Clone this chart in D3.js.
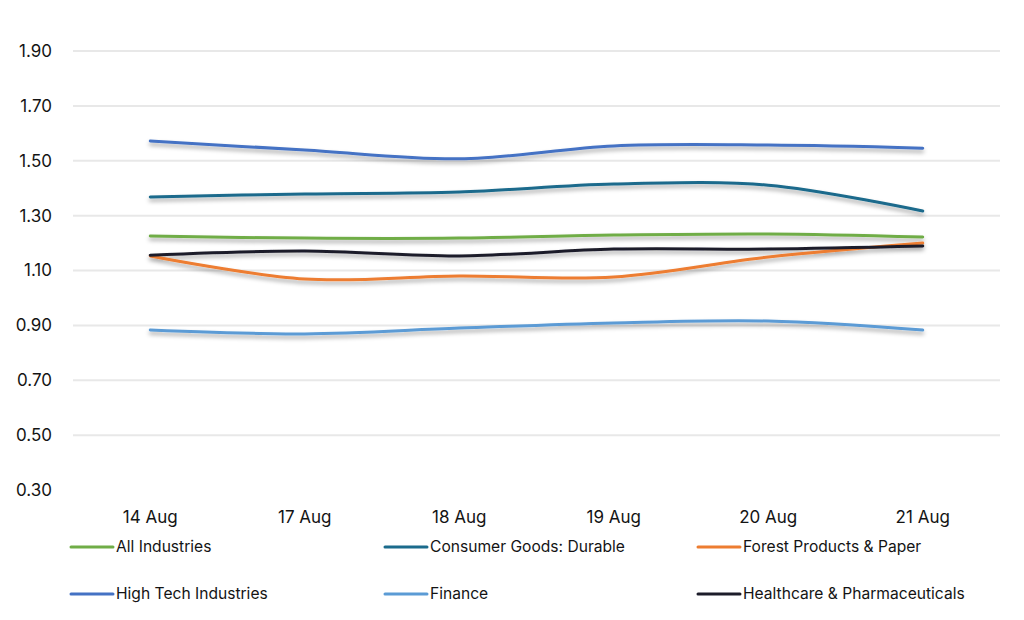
<!DOCTYPE html>
<html>
<head>
<meta charset="utf-8">
<script src="https://cdn.jsdelivr.net/npm/d3@7"></script>
<style>
  body { margin: 0; background: #fff; }
  text { font-family: "Inter", "Liberation Sans", sans-serif; fill: #141414; }
</style>
</head>
<body>
<div id="chart"></div>
<script>
"use strict";

const dates = ["14 Aug", "17 Aug", "18 Aug", "19 Aug", "20 Aug", "21 Aug"];
const yTicks = [0.30, 0.50, 0.70, 0.90, 1.10, 1.30, 1.50, 1.70, 1.90];

const allIndustries = [1.226, 1.218, 1.218, 1.229, 1.233, 1.222];
const consumerDurable = [1.368, 1.379, 1.386, 1.415, 1.411, 1.317];
const forestPaper = [1.153, 1.069, 1.080, 1.076, 1.149, 1.200];
const highTech = [1.572, 1.539, 1.507, 1.554, 1.557, 1.546];
const finance = [0.883, 0.869, 0.890, 0.909, 0.916, 0.883];
const healthcare = [1.156, 1.171, 1.153, 1.178, 1.178, 1.189];

const seriesNames = ["All Industries", "Consumer Goods: Durable", "Forest Products & Paper",
  "High Tech Industries", "Finance", "Healthcare & Pharmaceuticals"];
const seriesValues = [allIndustries, consumerDurable, forestPaper, highTech, finance, healthcare];
const seriesColors = ["#70ad47", "#1b6b8c", "#ed7d31", "#4472c4", "#5b9bd5", "#1c1c2a"];

const width = 1024, height = 620;
const margin = {left: 73, right: 24, top: 51, bottom: 130};

const svg = d3.select("#chart").append("svg")
  .attr("width", width)
  .attr("height", height);

// soft shadow under the lines, like the office chart
const defs = svg.append("defs");
defs.append("filter")
  .attr("id", "shadow")
  .attr("x", "-5%").attr("y", "-50%")
  .attr("width", "110%").attr("height", "200%")
  .append("feDropShadow")
  .attr("dx", 0).attr("dy", 3)
  .attr("stdDeviation", 2.2)
  .attr("flood-color", "#000")
  .attr("flood-opacity", 0.35);

const xScale = d3.scaleBand()
  .domain(dates)
  .range([margin.left, width - margin.right]);

const yScale = d3.scaleLinear()
  .domain([0.30, 1.90])
  .range([490, margin.top]);

// gridlines (none at the base value)
svg.append("g")
  .selectAll("line")
  .data(yTicks.filter(d => d > 0.3))
  .join("line")
  .attr("x1", margin.left)
  .attr("x2", width - margin.right)
  .attr("y1", d => yScale(d))
  .attr("y2", d => yScale(d))
  .attr("stroke", "#e8e8e8")
  .attr("stroke-width", 2);

// y labels
svg.append("g")
  .selectAll("text")
  .data(yTicks)
  .join("text")
  .attr("x", 52)
  .attr("y", d => yScale(d))
  .attr("dy", "0.35em")
  .attr("text-anchor", "end")
  .style("font-size", "17px")
  .text(d => d.toFixed(2));

// x labels
svg.append("g")
  .selectAll("text")
  .data(dates)
  .join("text")
  .attr("x", d => xScale(d) + xScale.bandwidth() / 2)
  .attr("y", 517)
  .attr("dy", "0.35em")
  .attr("text-anchor", "middle")
  .style("font-size", "17px")
  .text(d => d);

const lineGen = d3.line()
  .x((d, i) => xScale(dates[i]) + xScale.bandwidth() / 2)
  .y(d => yScale(d))
  .curve(d3.curveCatmullRom.alpha(0.5));

svg.append("g")
  .attr("filter", "url(#shadow)")
  .selectAll("path")
  .data(seriesValues)
  .join("path")
  .attr("d", d => lineGen(d))
  .attr("fill", "none")
  .attr("stroke", (d, i) => seriesColors[i])
  .attr("stroke-width", 3)
  .attr("stroke-linecap", "round");

// legend, 3 columns x 2 rows
const legendX = [71, 385, 698];
const legendY = [547, 594];
const legend = svg.append("g")
  .selectAll("g")
  .data(seriesNames)
  .join("g")
  .attr("transform", (d, i) => `translate(${legendX[i % 3]},${legendY[Math.floor(i / 3)]})`);

legend.append("line")
  .attr("x1", 0).attr("x2", 42)
  .attr("stroke", (d, i) => seriesColors[i])
  .attr("stroke-width", 3)
  .attr("stroke-linecap", "round");

legend.append("text")
  .attr("x", 45)
  .attr("dy", "0.35em")
  .style("font-size", "15.6px")
  .text(d => d);
</script>
</body>
</html>
